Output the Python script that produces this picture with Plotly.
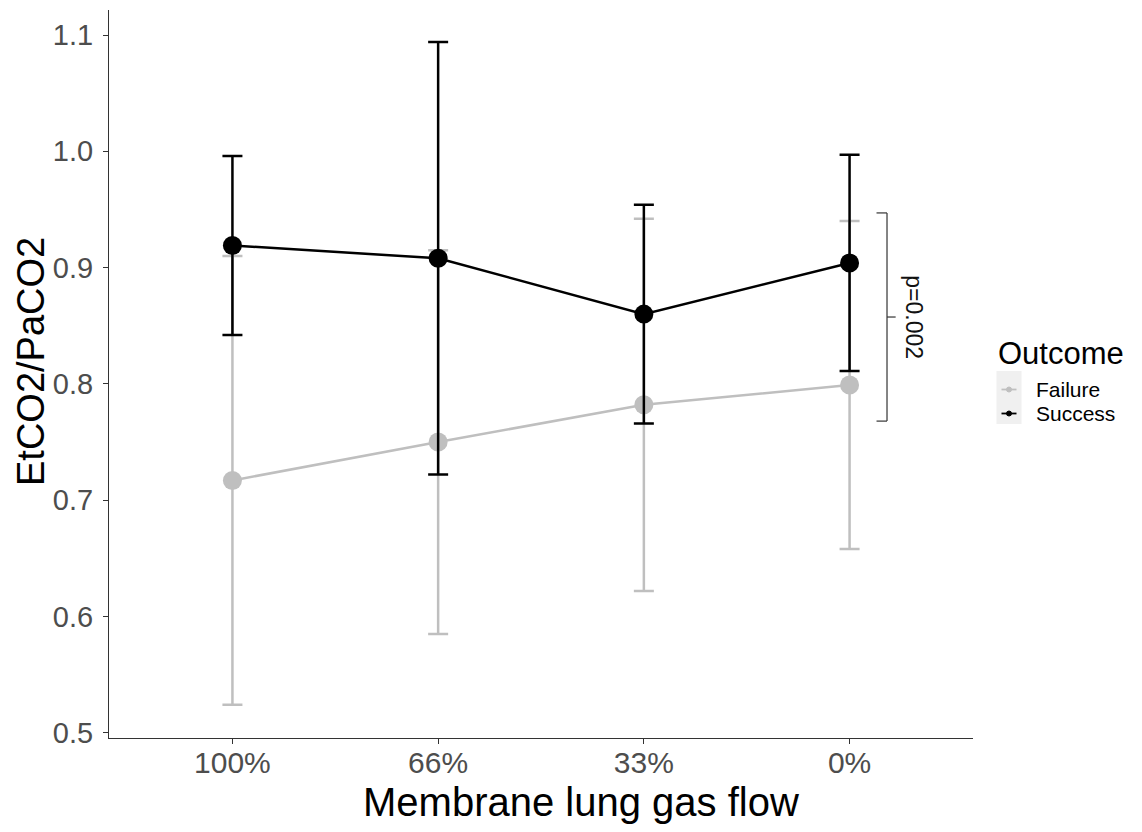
import plotly.graph_objects as go

# ---- data ----
categories = ["100%", "66%", "33%", "0%"]
failure_mean = [0.717, 0.750, 0.782, 0.799]
failure_sd = [0.193, 0.165, 0.160, 0.141]
success_mean = [0.919, 0.908, 0.860, 0.904]
success_sd = [0.077, 0.186, 0.094, 0.093]
y_ticks = [0.5, 0.6, 0.7, 0.8, 0.9, 1.0, 1.1]
bracket_low = 0.768
bracket_high = 0.947
p_label = "p=0.002"
x_title = "Membrane lung gas flow"
y_title = "EtCO2/PaCO2"
legend_title = "Outcome"
legend_names = ["Failure", "Success"]

FAIL_COL = "#bfbfbf"
SUCC_COL = "#000000"
FONT = "Liberation Sans, Arial, Helvetica, sans-serif"

fig = go.Figure()

fig.add_trace(go.Scatter(
    x=categories, y=failure_mean, mode="lines+markers", name="Failure",
    line=dict(color=FAIL_COL, width=2.5),
    marker=dict(color=FAIL_COL, size=19),
    error_y=dict(type="data", array=failure_sd, symmetric=True,
                 color=FAIL_COL, thickness=2.5, width=10),
    showlegend=False,
))
fig.add_trace(go.Scatter(
    x=categories, y=success_mean, mode="lines+markers", name="Success",
    line=dict(color=SUCC_COL, width=2.5),
    marker=dict(color=SUCC_COL, size=19),
    error_y=dict(type="data", array=success_sd, symmetric=True,
                 color=SUCC_COL, thickness=2.5, width=10),
    showlegend=False,
))

# significance bracket
last = len(categories) - 1
bx = last + 0.182
bl = last + 0.131
br = last + 0.224
mid = (bracket_low + bracket_high) / 2
lstyle = dict(color="#333333", width=1.2)
for x0, y0, x1, y1 in [
    (bl, bracket_high, bx, bracket_high),
    (bx, bracket_high, bx, bracket_low),
    (bl, bracket_low, bx, bracket_low),
    (bx, mid, br, mid),
]:
    fig.add_shape(type="line", xref="x", yref="y", x0=x0, y0=y0, x1=x1, y1=y1,
                  line=lstyle)
fig.add_annotation(x=last + 0.312, y=mid, xref="x", yref="y", text=p_label,
                   textangle=90, showarrow=False,
                   font=dict(family=FONT, size=23, color="#111111"))

# axis titles
fig.add_annotation(x=0.5, y=0, xref="paper", yref="paper", text=x_title,
                   xanchor="center", yanchor="middle", xshift=40, yshift=-64,
                   showarrow=False, font=dict(family=FONT, size=40, color="#000000"))
fig.add_annotation(x=0, y=0.5, xref="paper", yref="paper", text=y_title,
                   textangle=-90, xanchor="center", yanchor="middle",
                   xshift=-78, yshift=12, showarrow=False,
                   font=dict(family=FONT, size=38, color="#000000"))

# ---- legend (ggplot-style, small keys, tight spacing) ----
def pix_shape(**kw):
    base = dict(xref="paper", yref="paper", xsizemode="pixel", ysizemode="pixel",
                xanchor=1, yanchor=1)
    base.update(kw)
    fig.add_shape(**base)

fig.add_annotation(x=1, y=1, xref="paper", yref="paper", text=legend_title,
                   xanchor="left", yanchor="middle", xshift=23, yshift=-343,
                   showarrow=False, font=dict(family=FONT, size=31, color="#000000"))
pix_shape(type="rect", x0=23.5, x1=48.5, y0=-361, y1=-414,
          fillcolor="#f0f0f0", line=dict(width=0), layer="below")
for i, (name, col) in enumerate(zip(legend_names, [FAIL_COL, SUCC_COL])):
    yy = -379.5 - 24 * i
    pix_shape(type="line", x0=28.5, x1=43.5, y0=yy, y1=yy,
              line=dict(color=col, width=1.8))
    pix_shape(type="circle", x0=33.5, x1=38.5, y0=yy - 2.5, y1=yy + 2.5,
              fillcolor=col, line=dict(color=col, width=1))
    fig.add_annotation(x=1, y=1, xref="paper", yref="paper", text=name,
                       xanchor="left", yanchor="middle", xshift=61, yshift=yy,
                       showarrow=False,
                       font=dict(family=FONT, size=21, color="#000000"))

fig.update_layout(
    width=1134, height=824,
    margin=dict(l=101, r=168.5, t=2, b=94),
    plot_bgcolor="white", paper_bgcolor="white",
    font=dict(family=FONT, color="#000000"),
    showlegend=False,
    xaxis=dict(
        type="category", range=[-0.6, 3.6], automargin=False,
        showline=True, linecolor="#333333", linewidth=1.2,
        ticks="outside", ticklen=5, tickcolor="#333333", tickwidth=1.2,
        ticklabelstandoff=-7,
        tickfont=dict(family=FONT, size=30, color="#4d4d4d"),
        showgrid=False, zeroline=False,
    ),
    yaxis=dict(
        range=[0.4955, 1.1215], tickvals=y_ticks, tickformat=".1f",
        automargin=False,
        showline=True, linecolor="#333333", linewidth=1.2,
        ticks="outside", ticklen=5, tickcolor="#333333", tickwidth=1.2,
        ticklabelstandoff=4,
        tickfont=dict(family=FONT, size=29, color="#4d4d4d"),
        showgrid=False, zeroline=False,
    ),
)

fig.write_html("out.html")
